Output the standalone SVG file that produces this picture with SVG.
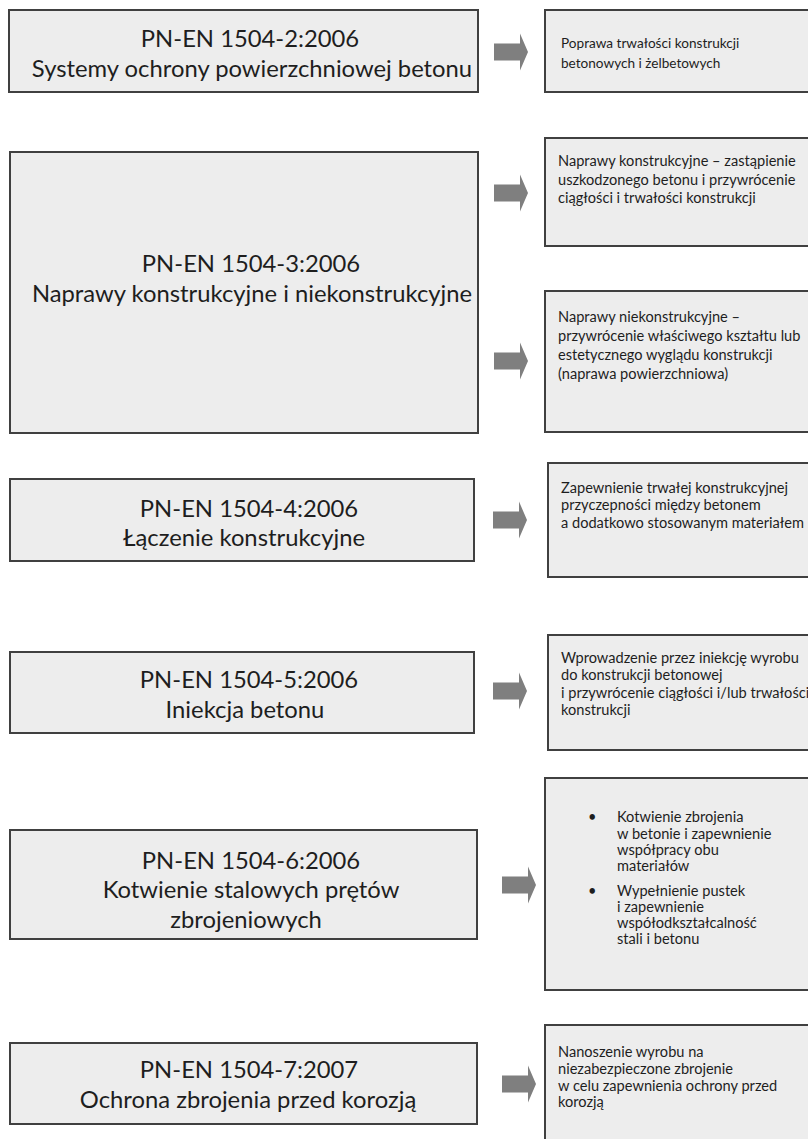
<svg xmlns="http://www.w3.org/2000/svg" width="808" height="1139" viewBox="0 0 808 1139">
<style>
.box{fill:#ededed;stroke:#404040;stroke-width:2}
.lt{font-family:Lato,"Open Sans","Liberation Sans",sans-serif;font-size:23.8px;fill:#1e1e1e;text-anchor:middle}
.rt{font-family:Lato,"Open Sans","Liberation Sans",sans-serif;font-size:14.6px;fill:#1e1e1e}
.rs{font-family:Lato,"Open Sans","Liberation Sans",sans-serif;font-size:13.6px;fill:#1e1e1e}
.arr{fill:#7f7f7f}
</style>
<defs>
<path id="arrow" d="M0,-8.5 H26 V-18.5 L34,0 L26,18.5 V8.5 H0 Z"/>
</defs>
<rect width="808" height="1139" fill="#ffffff"/>

<g id="n1">
<rect class="box" x="9" y="10" width="469" height="82"/>
<text class="lt" x="250" y="47">PN-EN 1504-2:2006</text>
<text class="lt" x="252" y="77">Systemy ochrony powierzchniowej betonu</text>
</g>
<g id="r1">
<rect class="box" x="545" y="10" width="270" height="82"/>
<text class="rs" x="561" y="48">Poprawa trwałości konstrukcji</text>
<text class="rs" x="561" y="68">betonowych i żelbetowych</text>
</g>

<g id="n2">
<rect class="box" x="10" y="152" width="468" height="281"/>
<text class="lt" x="251" y="272">PN-EN 1504-3:2006</text>
<text class="lt" x="252" y="302">Naprawy konstrukcyjne i niekonstrukcyjne</text>
</g>
<g id="r2">
<rect class="box" x="545" y="138" width="270" height="108"/>
<text class="rt" x="558" y="166">Naprawy konstrukcyjne – zastąpienie</text>
<text class="rt" x="558" y="185">uszkodzonego betonu i przywrócenie</text>
<text class="rt" x="558" y="203">ciągłości i trwałości konstrukcji</text>
</g>
<g id="r3">
<rect class="box" x="545" y="291" width="270" height="141"/>
<text class="rt" x="558" y="322">Naprawy niekonstrukcyjne –</text>
<text class="rt" x="558" y="341">przywrócenie właściwego kształtu lub</text>
<text class="rt" x="558" y="360">estetycznego wyglądu konstrukcji</text>
<text class="rt" x="558" y="379">(naprawa powierzchniowa)</text>
</g>

<g id="n3">
<rect class="box" x="10" y="479" width="464" height="82"/>
<text class="lt" x="249" y="517">PN-EN 1504-4:2006</text>
<text class="lt" x="244" y="546">Łączenie konstrukcyjne</text>
</g>
<g id="r4">
<rect class="box" x="548" y="463" width="267" height="114"/>
<text class="rt" x="561" y="493">Zapewnienie trwałej konstrukcyjnej</text>
<text class="rt" x="561" y="510">przyczepności między betonem</text>
<text class="rt" x="561" y="528">a dodatkowo stosowanym materiałem</text>
</g>

<g id="n4">
<rect class="box" x="10" y="652" width="464" height="81"/>
<text class="lt" x="249" y="688">PN-EN 1504-5:2006</text>
<text class="lt" x="245" y="718">Iniekcja betonu</text>
</g>
<g id="r5">
<rect class="box" x="548" y="635" width="267" height="115"/>
<text class="rt" x="561" y="663">Wprowadzenie przez iniekcję wyrobu</text>
<text class="rt" x="561" y="680">do konstrukcji betonowej</text>
<text class="rt" x="561" y="698">i przywrócenie ciągłości i/lub trwałości</text>
<text class="rt" x="561" y="715">konstrukcji</text>
</g>

<g id="n5">
<rect class="box" x="10" y="830" width="467" height="109"/>
<text class="lt" x="251" y="869">PN-EN 1504-6:2006</text>
<text class="lt" x="251" y="898">Kotwienie stalowych prętów</text>
<text class="lt" x="246" y="928">zbrojeniowych</text>
</g>
<g id="r6">
<rect class="box" x="545" y="778" width="270" height="212"/>
<text class="rt" x="588" y="822">•</text>
<text class="rt" x="617" y="822">Kotwienie zbrojenia</text>
<text class="rt" x="617" y="839">w betonie i zapewnienie</text>
<text class="rt" x="617" y="855">współpracy obu</text>
<text class="rt" x="617" y="871">materiałów</text>
<text class="rt" x="588" y="896">•</text>
<text class="rt" x="617" y="896">Wypełnienie pustek</text>
<text class="rt" x="617" y="912">i zapewnienie</text>
<text class="rt" x="617" y="928">współodkształcalność</text>
<text class="rt" x="617" y="944">stali i betonu</text>
</g>

<g id="n6">
<rect class="box" x="10" y="1043" width="467" height="81"/>
<text class="lt" x="249" y="1078">PN-EN 1504-7:2007</text>
<text class="lt" x="248" y="1108">Ochrona zbrojenia przed korozją</text>
</g>
<g id="r7">
<rect class="box" x="545" y="1025" width="270" height="130"/>
<text class="rt" x="558" y="1057">Nanoszenie wyrobu na</text>
<text class="rt" x="558" y="1074">niezabezpieczone zbrojenie</text>
<text class="rt" x="558" y="1091">w celu zapewnienia ochrony przed</text>
<text class="rt" x="558" y="1107">korozją</text>
</g>

<g id="connectors" class="arr">
<use href="#arrow" x="494" y="52"/>
<use href="#arrow" x="494" y="193"/>
<use href="#arrow" x="494" y="361"/>
<use href="#arrow" x="493" y="520"/>
<use href="#arrow" x="493" y="691"/>
<use href="#arrow" x="502" y="885"/>
<use href="#arrow" x="502" y="1084"/>
</g>
</svg>
